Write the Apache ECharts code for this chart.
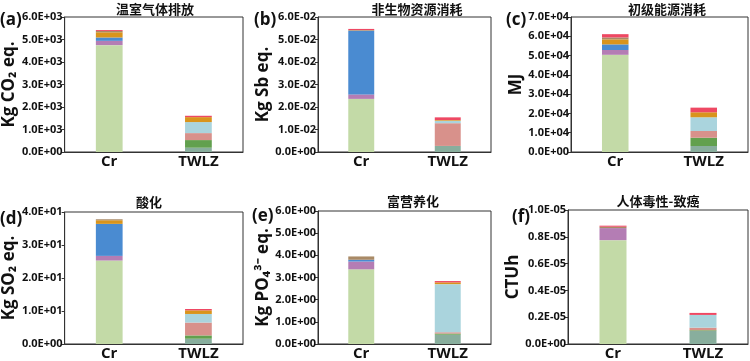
<!DOCTYPE html>
<html>
<head>
<meta charset="utf-8">
<script src="https://cdn.jsdelivr.net/npm/echarts@6/dist/echarts.min.js"></script>
<style>html,body{margin:0;padding:0;background:#fff}#chart{width:750px;height:361px}</style>
</head>
<body>
<div id="chart"></div>
<script>
// ---- data ----
const categories = ['Cr', 'TWLZ'];
const seriesNames = ['S1', 'S4', 'S5', 'S6', 'S7', 'S2', 'S3', 'S8', 'S9', 'S10'];
const seriesColors = ['#c3daa7', '#88ae9d', '#62a04e', '#d8918b', '#aad4dd', '#b47db4', '#4a8bd1', '#d9941c', '#a98a66', '#ee4863'];
const panelTitles = ['温室气体排放', '非生物资源消耗', '初级能源消耗', '酸化', '富营养化', '人体毒性-致癌'];
const panelLetters = ['(a)', '(b)', '(c)', '(d)', '(e)', '(f)'];
const yNames = ['Kg CO₂ eq.', 'Kg Sb eq.', 'MJ', 'Kg SO₂ eq.', 'Kg PO₄³⁻ eq.', 'CTUh'];
const yMax = [6000, 0.06, 70000, 40, 6, 1e-5];
const yInterval = [1000, 0.01, 10000, 10, 1, 2e-6];
const yExp = [3, -2, 4, 1, 0, -5];

// values per series order above: [S1,S4,S5,S6,S7,S2,S3,S8,S9,S10]
const ghgCr     = [4750, 0, 0, 0, 0, 190, 150, 230, 60, 40];
const ghgTWLZ   = [0, 190, 340, 310, 490, 0, 0, 220, 0, 60];
const adpCr     = [0.0236, 0, 0, 0, 0, 0.0020, 0.0283, 0, 0.0003, 0.0005];
const adpTWLZ   = [0, 0.0027, 0, 0.0101, 0.0011, 0, 0, 0.0003, 0, 0.0012];
const pedCr     = [50400, 0, 0, 0, 0, 2500, 2900, 2600, 1000, 1700];
const pedTWLZ   = [0, 3100, 4300, 3500, 7100, 0, 0, 2600, 0, 2400];
const apCr      = [25.3, 0, 0, 0, 0, 1.4, 9.7, 1.1, 0.3, 0];
const apTWLZ    = [0, 1.6, 1.0, 3.9, 2.6, 0, 0, 1.1, 0, 0.4];
const epCr      = [3.37, 0, 0, 0, 0, 0.35, 0.08, 0, 0.15, 0];
const epTWLZ    = [0, 0.42, 0.05, 0.06, 2.17, 0, 0, 0.08, 0, 0.06];
const htpcCr    = [7.75e-6, 0, 0, 0, 0, 0.9e-6, 0, 0, 0.1e-6, 0.08e-6];
const htpcTWLZ  = [0, 0.98e-6, 0.05e-6, 0.19e-6, 0.95e-6, 0, 0, 0, 0, 0.15e-6];

const panelCr = [ghgCr, adpCr, pedCr, apCr, epCr, htpcCr];
const panelTWLZ = [ghgTWLZ, adpTWLZ, pedTWLZ, apTWLZ, epTWLZ, htpcTWLZ];

// ---- layout ----
const grids = [
  {left: 63, top: 17, width: 180, height: 135},
  {left: 318, top: 17, width: 173, height: 135},
  {left: 571, top: 17, width: 177, height: 135},
  {left: 63, top: 212, width: 180, height: 135},
  {left: 318, top: 211, width: 173, height: 135},
  {left: 568, top: 210, width: 180, height: 137}
];
const nameGaps = [40, 45, 45, 40, 46, 44];
const titlePos = [[155, 9], [417, 9], [667, 9], [149, 202], [413, 201], [658, 201]];
const letterPos = [[0, 20], [254, 20], [506, 20], [0, 219], [252, 216], [512, 217]];

const FONT = '"Open Sans", "Noto Sans CJK SC", sans-serif';

function fmt(exp) {
  return function (v) {
    if (Math.abs(v) < 1e-20) return '0.0E+00';
    const m = v / Math.pow(10, exp);
    return m.toFixed(1) + 'E' + (exp < 0 ? '-' : '+') + String(Math.abs(exp)).padStart(2, '0');
  };
}

const xAxes = [], yAxes = [], series = [], graphics = [];
grids.forEach((g, i) => {
  g.show = true; g.borderColor = '#333'; g.borderWidth = 1;
  xAxes.push({
    type: 'category', gridIndex: i, data: categories,
    axisLine: {lineStyle: {color: '#333'}},
    axisTick: {alignWithLabel: true, length: 3, lineStyle: {color: '#333'}},
    axisLabel: {color: '#111', fontWeight: 'bold', fontSize: 15, fontFamily: FONT, margin: 2}
  });
  yAxes.push({
    type: 'value', gridIndex: i, min: 0, max: yMax[i], interval: yInterval[i],
    name: yNames[i], nameLocation: 'middle', nameGap: nameGaps[i], nameRotate: 90,
    nameTextStyle: {color: '#111', fontWeight: 'bold', fontSize: 17, fontFamily: FONT},
    axisLine: {show: true, lineStyle: {color: '#333'}},
    axisTick: {show: true, length: 3, lineStyle: {color: '#333'}},
    splitLine: {show: false},
    axisLabel: {color: '#111', fontWeight: 'bold', fontSize: 11, fontFamily: FONT, margin: 2, formatter: fmt(yExp[i])}
  });
  seriesNames.forEach((n, k) => {
    series.push({
      name: n, type: 'bar', stack: 'p' + i, xAxisIndex: i, yAxisIndex: i,
      barWidth: '30%', itemStyle: {color: seriesColors[k]},
      data: [panelCr[i][k], panelTWLZ[i][k]],
      silent: true, animation: false
    });
  });
  graphics.push({
    type: 'text', x: titlePos[i][0], y: titlePos[i][1],
    style: {text: panelTitles[i], font: 'bold 13px "Noto Sans CJK SC", sans-serif', fill: '#111', textAlign: 'center', textVerticalAlign: 'middle'}
  });
  graphics.push({
    type: 'text', x: letterPos[i][0], y: letterPos[i][1],
    style: {text: panelLetters[i], font: 'bold 17px "Open Sans", sans-serif', fill: '#111', textAlign: 'left', textVerticalAlign: 'middle'}
  });
});

const chart = echarts.init(document.getElementById('chart'), null, {renderer: 'canvas'});
chart.setOption({
  animation: false,
  grid: grids, xAxis: xAxes, yAxis: yAxes, series: series, graphic: graphics
});
</script>
</body>
</html>
